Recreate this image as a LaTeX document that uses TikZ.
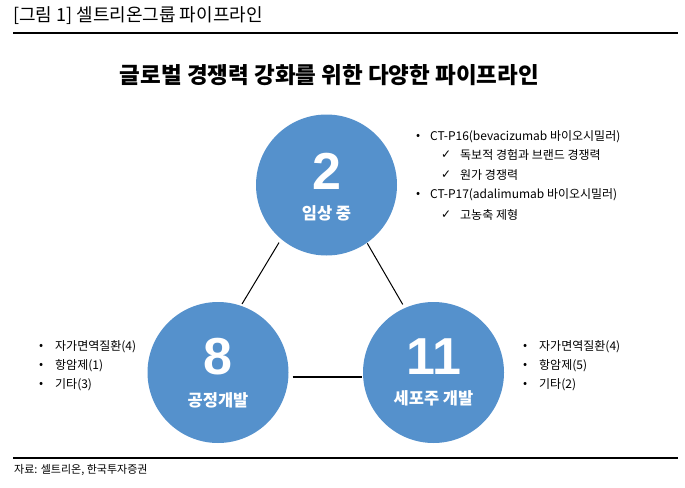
\documentclass[tikz,border=0pt]{standalone}
\usepackage{fontspec}
\setmainfont{Noto Sans CJK KR}
\newfontfamily\numfont{Liberation Sans}
\newfontfamily\symfont{DejaVu Sans}
\definecolor{cblue}{RGB}{85,145,204}
\begin{document}
\begin{tikzpicture}[x=1pt,y=-1pt,
  bubble/.style={circle,fill=cblue,minimum size=141pt,inner sep=0pt},
  bignum/.style={text=white,font=\numfont\fontsize{52}{52}\selectfont\bfseries,inner sep=0pt},
  circlabel/.style={text=white,font=\fontsize{16.5}{16.5}\selectfont\bfseries,inner sep=0pt},
  item/.style={anchor=west,font=\fontsize{12}{12}\selectfont,inner sep=0pt},
  link/.style={draw=black,line width=1pt},
  rule/.style={draw=black,line width=1.6pt}]
\useasboundingbox (0,0) rectangle (685,487);
% header
\node[anchor=west,inner sep=0pt,font=\fontsize{18}{18}\selectfont] (hdr) at (13,16) {[그림 1] 셀트리온그룹 파이프라인};
\coordinate (h1) at (13,33); \coordinate (h2) at (678,33);
\draw[rule] (h1) -- (h2);
\node[inner sep=0pt,font=\fontsize{22.5}{22.5}\selectfont\bfseries] (ttl) at (329.5,75) {글로벌 경쟁력 강화를 위한 다양한 파이프라인};
% circles
\node[bubble] (T) at (326.5,185) {};
\node[bubble] (L) at (218,372.5) {};
\node[bubble] (R) at (433.5,372.5) {};
\node[bignum] (Tn) at (326.5,171) {2};
\node[circlabel] (Tl) at (326.5,213) {임상 중};
\node[bignum] (Ln) at (218,357) {8};
\node[circlabel] (Ll) at (218,400) {공정개발};
\node[bignum] (Rn) at (433.5,357) {11};
\node[circlabel] (Rl) at (433.5,398) {세포주 개발};
% connectors
\draw[link,shorten <=4pt,shorten >=2pt] (T.230) -- (L.71);
\draw[link,shorten <=0.5pt,shorten >=4pt] (T.-55) -- (R.114);
\draw[link,line width=2pt,shorten <=4pt,shorten >=1pt] (L.-4) -- (R.184);
% top right list
\node[item] (b1) at (416,137) {•};
\node[item] (t1) at (430,137) {CT-P16(bevacizumab 바이오시밀러)};
\node[item] (c1) at (441,155) {\symfont ✓};
\node[item] (t2) at (460,155) {독보적 경험과 브랜드 경쟁력};
\node[item] (c2) at (441,175) {\symfont ✓};
\node[item] (t3) at (460,175) {원가 경쟁력};
\node[item] (b2) at (416,195) {•};
\node[item] (t4) at (430,195) {CT-P17(adalimumab 바이오시밀러)};
\node[item] (c3) at (441,215) {\symfont ✓};
\node[item] (t5) at (460,215) {고농축 제형};
% left list
\node[item] (lb1) at (39,347) {•};
\node[item] (lt1) at (55,347) {자가면역질환(4)};
\node[item] (lb2) at (39,366) {•};
\node[item] (lt2) at (55,366) {항암제(1)};
\node[item] (lb3) at (39,385) {•};
\node[item] (lt3) at (55,385) {기타(3)};
% right list
\node[item] (rb1) at (523,347) {•};
\node[item] (rt1) at (539,347) {자가면역질환(4)};
\node[item] (rb2) at (523,366) {•};
\node[item] (rt2) at (539,366) {항암제(5)};
\node[item] (rb3) at (523,385) {•};
\node[item] (rt3) at (539,385) {기타(2)};
% footer
\coordinate (f1) at (13,458); \coordinate (f2) at (678,458);
\draw[rule] (f1) -- (f2);
\node[anchor=west,inner sep=0pt,font=\fontsize{11}{11}\selectfont] (src) at (14,470) {자료: 셀트리온, 한국투자증권};
\end{tikzpicture}
\end{document}
